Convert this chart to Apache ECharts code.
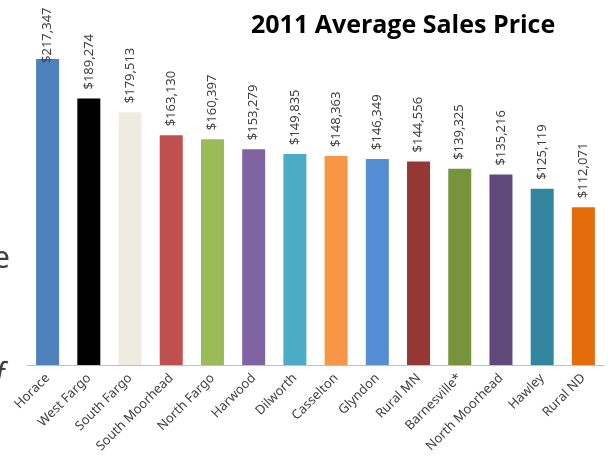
<!DOCTYPE html>
<html>
<head>
<meta charset="utf-8">
<script src="https://cdn.jsdelivr.net/npm/echarts@6/dist/echarts.min.js"></script>
<style>
  html, body { margin: 0; padding: 0; background: #fff; }
  #chart { width: 608px; height: 459px; }
</style>
</head>
<body>
<div id="chart"></div>
<script>
const towns = ['Horace', 'West Fargo', 'South Fargo', 'South Moorhead', 'North Fargo', 'Harwood', 'Dilworth',
  'Casselton', 'Glyndon', 'Rural MN', 'Barnesville*', 'North Moorhead', 'Hawley', 'Rural ND'];
const prices = [217347, 189274, 179513, 163130, 160397, 153279, 149835,
  148363, 146349, 144556, 139325, 135216, 125119, 112071];
const barColors = ['#4F81BD', '#000000', '#EEECE1', '#C0504D', '#9BBB59', '#8064A2', '#4BACC6',
  '#F79646', '#558ED5', '#953735', '#77933C', '#604A7B', '#31859C', '#E46C0A'];

const money = v => '$' + String(v).replace(/\B(?=(\d{3})+(?!\d))/g, ',');

const chart = echarts.init(document.getElementById('chart'));
const option = {
  animation: false,
  title: {
    text: '2011 Average Sales Price',
    left: 246,
    top: 8,
    textStyle: { fontFamily: 'Open Sans', fontWeight: 'bold', fontSize: 25, color: '#000' }
  },
  graphic: [
    { type: 'text', left: -7, top: 244, style: { text: 'e', fontFamily: 'Noto Sans', fontSize: 30, fill: '#404040' } },
    { type: 'text', left: -5, top: 361, style: { text: 'f', fontFamily: 'Noto Sans', fontStyle: 'italic', fontSize: 30, fill: '#404040' } }
  ],
  grid: { left: 27, right: 4, top: 13, bottom: 94 },
  xAxis: {
    type: 'category',
    data: towns,
    axisTick: { show: false },
    axisLine: { lineStyle: { color: '#BFBFBF', width: 1 } },
    axisLabel: {
      interval: 0,
      rotate: 45,
      margin: 11,
      fontFamily: 'Noto Sans',
      fontSize: 13,
      color: '#404040'
    }
  },
  yAxis: { type: 'value', min: 0, max: 250000, show: false, splitLine: { show: false } },
  series: [{
    type: 'bar',
    barWidth: 23,
    data: prices.map((v, i) => i === 0 ? { value: v, label: { distance: -4 } } : v),
    itemStyle: { color: p => barColors[p.dataIndex] },
    label: {
      show: true,
      position: 'top',
      rotate: 90,
      align: 'left',
      verticalAlign: 'middle',
      distance: 9,
      fontFamily: 'Noto Sans',
      fontSize: 13,
      color: '#404040',
      formatter: p => money(p.value)
    }
  }]
};
chart.setOption(option);
</script>
</body>
</html>
